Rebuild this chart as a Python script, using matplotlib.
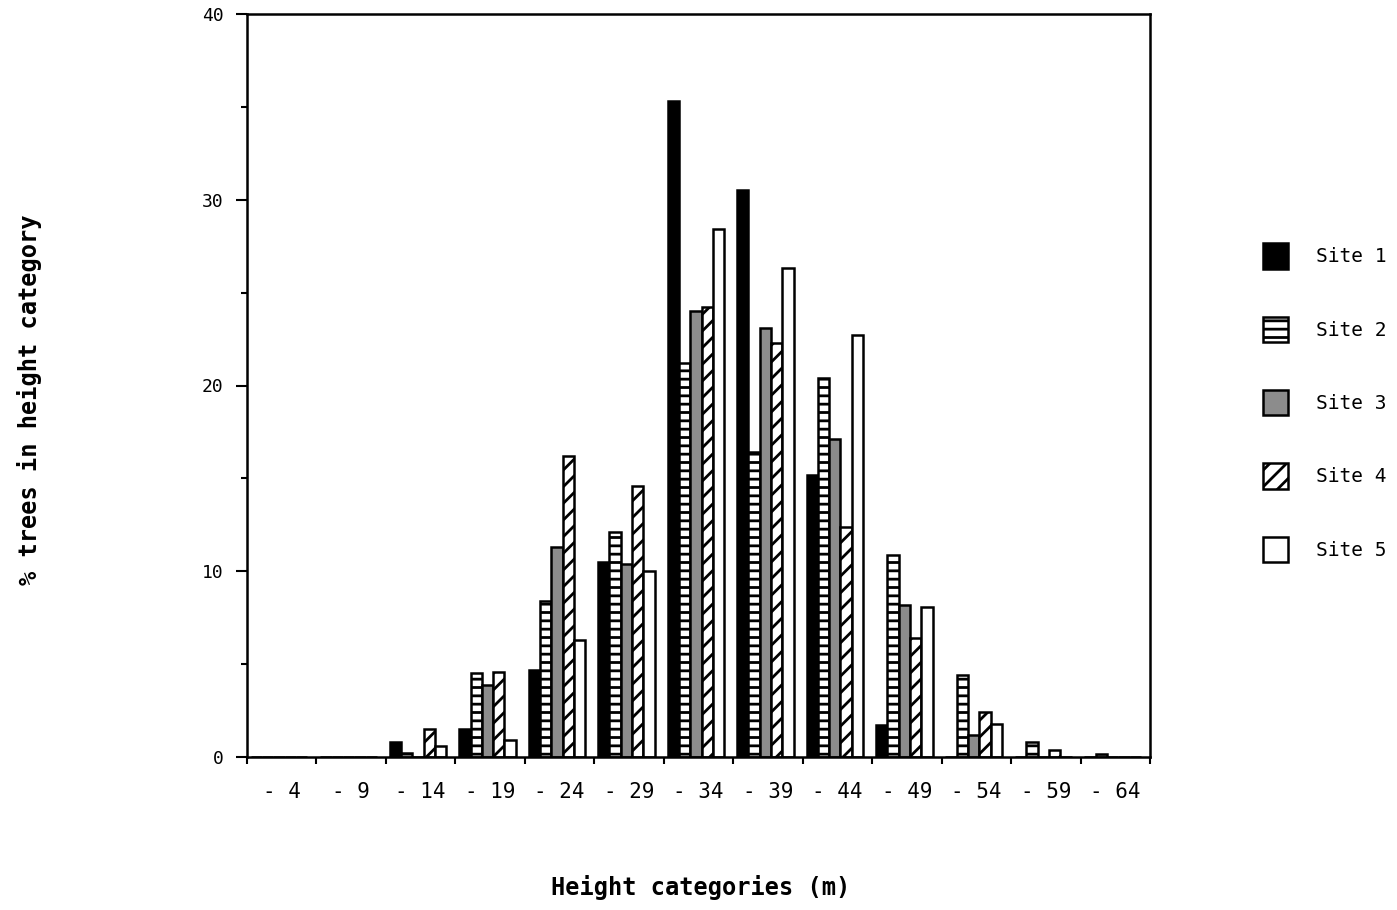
import numpy as np
import matplotlib
matplotlib.use("Agg")
import matplotlib.pyplot as plt
from matplotlib.patches import Patch

categories = ["- 4", "- 9", "- 14", "- 19", "- 24", "- 29", "- 34",
              "- 39", "- 44", "- 49", "- 54", "- 59", "- 64"]
site1 = [0, 0, 0.8, 1.5, 4.7, 10.5, 35.3, 30.5, 15.2, 1.7, 0, 0, 0]
site2 = [0, 0, 0.2, 4.5, 8.4, 12.1, 21.2, 16.4, 20.4, 10.9, 4.4, 0.8, 0.15]
site3 = [0, 0, 0, 3.9, 11.3, 10.4, 24.0, 23.1, 17.1, 8.2, 1.2, 0, 0]
site4 = [0, 0, 1.5, 4.6, 16.2, 14.6, 24.2, 22.3, 12.4, 6.4, 2.4, 0.35, 0]
site5 = [0, 0, 0.6, 0.9, 6.3, 10.0, 28.4, 26.3, 22.7, 8.1, 1.8, 0, 0]
series_names = ["Site 1", "Site 2", "Site 3", "Site 4", "Site 5"]
yticks = [0, 10, 20, 30, 40]

plt.rcParams['font.family'] = ['DejaVu Sans Mono']
plt.rcParams['hatch.linewidth'] = 2.0

W, H = 1397, 910
fig = plt.figure(figsize=(W / 100, H / 100), dpi=100)
ax = fig.add_axes([247 / W, 1 - 757 / H, (1150 - 247) / W, (757 - 14) / H])

x = np.arange(len(categories))
w = 0.163
off = 0.055
styles = [
    dict(facecolor='black', edgecolor='black', hatch=None),
    dict(facecolor='white', edgecolor='black', hatch='--'),
    dict(facecolor='#8c8c8c', edgecolor='black', hatch=None),
    dict(facecolor='white', edgecolor='black', hatch='//'),
    dict(facecolor='white', edgecolor='black', hatch=None),
]
data = [site1, site2, site3, site4, site5]
for j, (vals, st) in enumerate(zip(data, styles)):
    ax.bar(x - 0.5 + off + j * w, vals, width=w, align='edge',
           linewidth=1.8, zorder=2, **st)

ax.set_xlim(-0.5, len(categories) - 0.5)
ax.set_ylim(0, 40)

for s in ax.spines.values():
    s.set_linewidth(1.8)
    s.set_zorder(5)

ax.set_xticks(x)
ax.set_xticklabels(categories, fontsize=15)
ax.set_xticks(np.arange(-0.5, len(categories), 1.0), minor=True)
ax.tick_params(axis='x', which='major', length=0, pad=18)
ax.tick_params(axis='x', which='minor', length=5, width=1.5, direction='out')

ax.set_yticks(yticks)
ax.set_yticklabels([str(v) for v in yticks], fontsize=13)
ax.set_yticks([5, 15, 25, 35], minor=True)
ax.tick_params(axis='y', which='major', length=8, width=1.5, direction='out', pad=9)
ax.tick_params(axis='y', which='minor', length=4, width=1.5, direction='out')

fig.text(701 / W, 1 - 888 / H, "Height categories (m)", fontsize=17,
         fontweight='bold', ha='center', va='center')
fig.text(30 / W, 1 - 400 / H, "% trees in height category", fontsize=17,
         fontweight='bold', ha='center', va='center', rotation=90)

handles = [Patch(facecolor=st['facecolor'], edgecolor='black',
                 hatch=st['hatch'], linewidth=1.8) for st in styles]
fig.legend(handles, series_names, loc='upper left',
           bbox_to_anchor=(1263 / W, 1 - 243.5 / H), frameon=False,
           fontsize=14, handlelength=1.3, handleheight=1.62,
           labelspacing=2.47, handletextpad=1.4, borderpad=0,
           borderaxespad=0)

fig.savefig("out.png", dpi=100, facecolor='white')
